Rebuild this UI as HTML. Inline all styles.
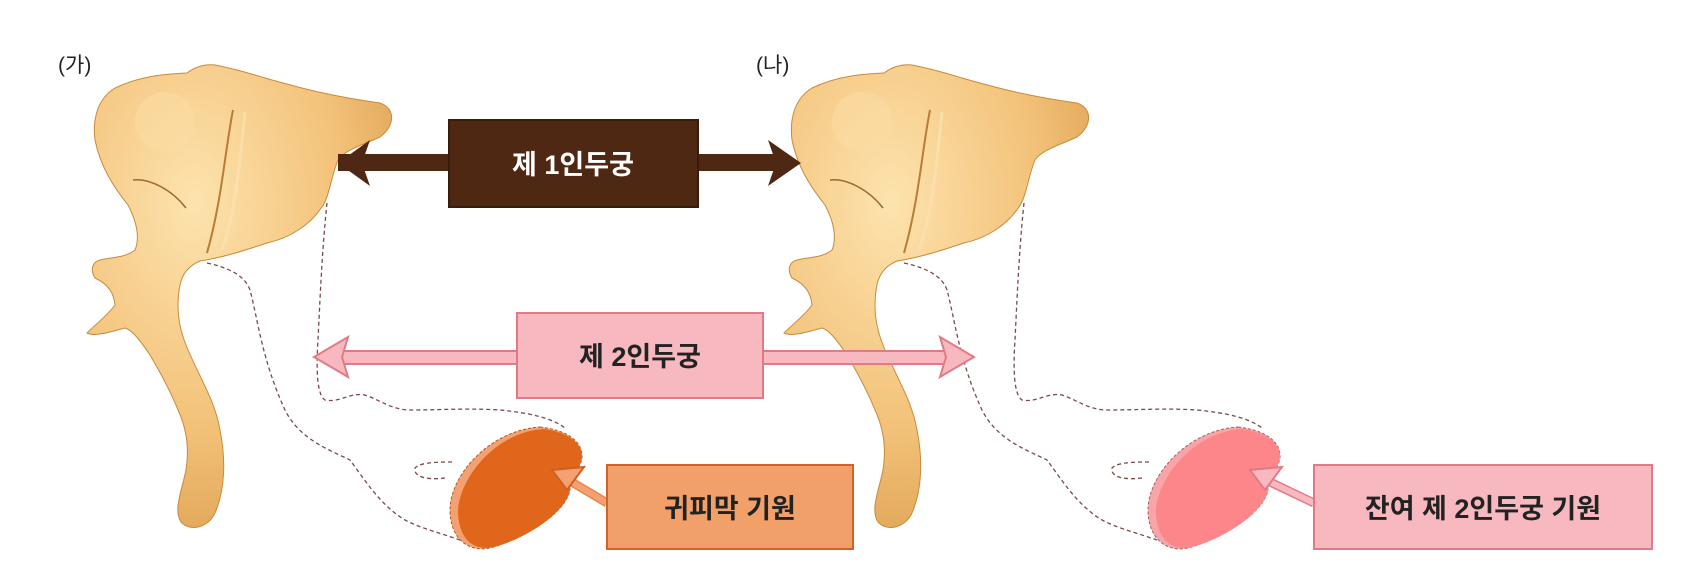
<!DOCTYPE html>
<html><head><meta charset="utf-8"><style>
html,body{margin:0;padding:0;background:#fff;width:1701px;height:586px;overflow:hidden}
svg{display:block}
text{font-family:"Liberation Sans","Noto Sans CJK KR","NanumGothic",sans-serif}
</style></head><body>
<svg width="1701" height="586" viewBox="0 0 1701 586" xmlns="http://www.w3.org/2000/svg">
<defs>
<radialGradient id="ear" cx="0.35" cy="0.3" r="0.8">
<stop offset="0" stop-color="#fde3ae"/><stop offset="0.6" stop-color="#f3c27a"/><stop offset="1" stop-color="#dca050"/>
</radialGradient>
<g id="earShape">
<path d="M187,73 C195,67 205,64 215,65 C240,70 255,75 265,78 C300,88 330,96 380,103 C395,108 396,125 380,137 C360,146 345,150 338,160 C330,180 330,195 322,207 C310,225 290,238 267,243 C240,252 220,258 200,261 C188,266 182,275 180,285 C176,305 178,325 186,345 C198,375 215,400 220,430 C226,460 225,490 215,513 C208,528 190,532 181,522 C173,510 182,490 186,470 C190,445 185,425 178,410 C170,390 160,372 150,355 C140,340 132,330 125,328 C110,332 95,337 87,333 C98,322 108,315 115,305 C114,295 110,285 95,278 C90,270 92,262 100,260 C112,257 125,258 135,250 C140,238 137,222 128,205 C112,185 100,165 95,140 C92,115 100,97 115,88 C140,76 165,74 187,73 Z" fill="url(#ear)" stroke="#c98a3c" stroke-width="1"/>
<path d="M233,110 C225,150 222,200 207,253" fill="none" stroke="#b97c36" stroke-width="2"/>
<path d="M245,112 C240,160 236,210 222,250" fill="none" stroke="#fbe2b3" stroke-width="3" opacity="0.7"/>
<circle cx="165" cy="122" r="30" fill="#fbdca3" opacity="0.6"/>
<path d="M133,180 C150,178 172,190 186,208" fill="none" stroke="#9a6a30" stroke-width="1.5"/>
</g>
<g id="dash" fill="none" stroke="#7a4a4a" stroke-width="1.3" stroke-dasharray="4,3">
<path d="M207,263 C230,268 245,276 250,290 C258,320 262,360 285,410 C300,440 330,450 350,460 C365,480 380,505 405,520 C420,528 440,533 460,540"/>
<path d="M327,203 C322,250 320,300 318,340 C316,370 317,395 325,400 C340,403 350,392 365,395 C380,400 392,410 410,410 C440,410 470,408 500,410 C530,413 552,418 565,428"/>
<path d="M452,462 C440,462 420,462 415,468 C413,478 430,480 445,478"/>
</g>
</defs>

<text x="58" y="72" font-size="21" fill="#222">(가)</text>
<text x="756" y="72" font-size="21" fill="#222">(나)</text>

<use href="#earShape"/>
<use href="#earShape" transform="translate(697,0)"/>
<use href="#dash"/>
<use href="#dash" transform="translate(697,0)"/>

<!-- first arch arrow -->
<rect x="338" y="154" width="450" height="17" fill="#4e2813"/>
<polygon points="338,163 370,140 362,163 370,186" fill="#4e2813"/>
<polygon points="801,163 768,140 776,163 768,186" fill="#4e2813"/>
<rect x="449" y="120" width="249" height="87" fill="#4e2813" stroke="#3a1c0c" stroke-width="2"/>
<text x="573" y="174" font-size="27" fill="#fff" text-anchor="middle" font-weight="bold">제 1인두궁</text>

<!-- second arch arrow -->
<rect x="330" y="351" width="625" height="13" fill="#f7b9bf" stroke="#e07b86" stroke-width="2"/>
<polygon points="314,357 348,337 342,357 348,377" fill="#f7b9bf" stroke="#e07b86" stroke-width="2"/>
<polygon points="974,357 940,337 946,357 940,377" fill="#f7b9bf" stroke="#e07b86" stroke-width="2"/>
<rect x="517" y="313" width="246" height="85" fill="#f7b9bf" stroke="#e07b86" stroke-width="2"/>
<text x="640" y="366" font-size="27" fill="#222" text-anchor="middle" font-weight="bold">제 2인두궁</text>

<!-- orange blob -->
<path d="M540,427 C565,430 583,440 582,458 C580,470 568,478 570,490 C565,515 520,540 490,548 C465,553 450,535 450,510 C450,475 490,430 540,427 Z" fill="#f4a070" stroke="#b05a20" stroke-width="1" stroke-dasharray="3,2"/>
<path d="M544,429 C566,432 583,442 582,458 C580,470 568,478 570,490 C565,515 522,540 494,547 C470,552 458,535 458,510 C460,478 495,432 544,429 Z" fill="#e0661c"/>
<line x1="607" y1="503" x2="570" y2="481" stroke="#e8874c" stroke-width="9"/>
<line x1="607" y1="503" x2="570" y2="481" stroke="#f4a070" stroke-width="6"/>
<polygon points="552,470 584,467 567,490" fill="#f4a070" stroke="#d06020" stroke-width="2"/>
<rect x="607" y="465" width="246" height="84" fill="#f2a06a" stroke="#d0622a" stroke-width="2"/>
<text x="730" y="518" font-size="27" fill="#222" text-anchor="middle" font-weight="bold">귀피막 기원</text>

<!-- pink blob -->
<path d="M1238,427 C1263,430 1281,440 1280,458 C1278,470 1266,478 1268,490 C1263,515 1218,540 1188,548 C1163,553 1148,535 1148,510 C1148,475 1188,430 1238,427 Z" fill="#f7a5a8" stroke="#b05a5a" stroke-width="1" stroke-dasharray="3,2"/>
<path d="M1242,429 C1264,432 1281,442 1280,458 C1278,470 1266,478 1268,490 C1263,515 1220,540 1192,547 C1168,552 1156,535 1156,510 C1158,478 1193,432 1242,429 Z" fill="#fc8689"/>
<line x1="1314" y1="503" x2="1268" y2="481" stroke="#e07b86" stroke-width="9"/>
<line x1="1314" y1="503" x2="1268" y2="481" stroke="#f7b9bf" stroke-width="6"/>
<polygon points="1250,470 1282,467 1265,490" fill="#f7b9bf" stroke="#e07b86" stroke-width="2"/>
<rect x="1314" y="465" width="338" height="84" fill="#f7b9bf" stroke="#e07b86" stroke-width="2"/>
<text x="1483" y="518" font-size="27" fill="#222" text-anchor="middle" font-weight="bold">잔여 제 2인두궁 기원</text>
</svg>
</body></html>
